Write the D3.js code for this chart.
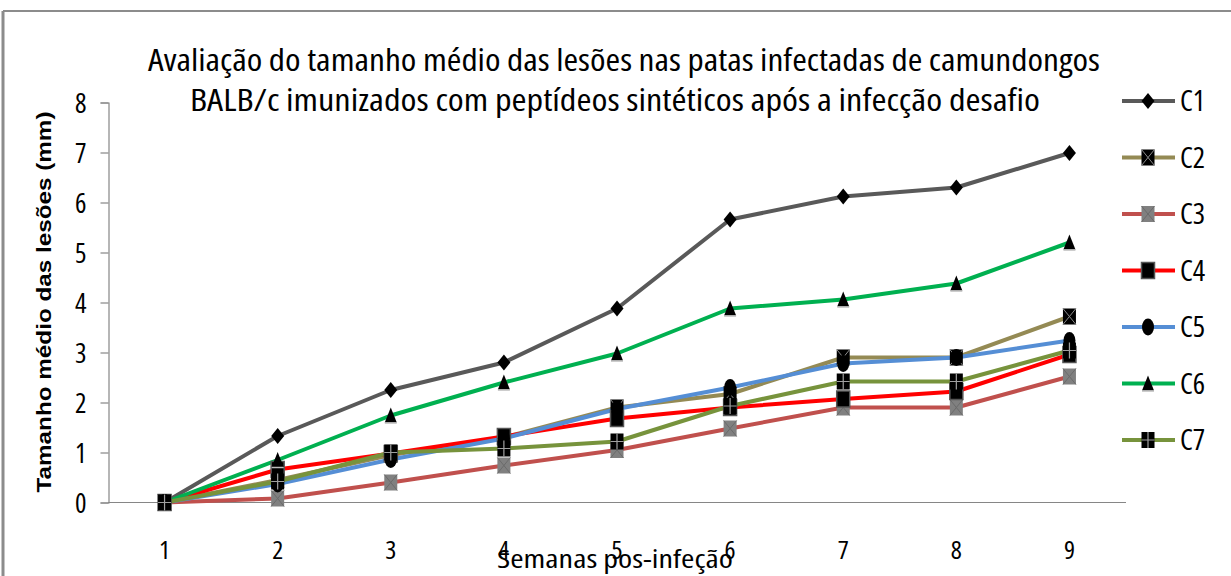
<!DOCTYPE html>
<head>
<meta charset="utf-8">
<script src="https://d3js.org/d3.v7.min.js"></script>
<style>
  body { margin: 0; background: #fff; }
  text { font-family: "Open Sans", sans-serif; font-stretch: 75%; fill: #000; }
</style>
</head>
<body>
<svg id="chart" width="1231" height="576"></svg>
<script>
// weeks after infection
const weeks = [1, 2, 3, 4, 5, 6, 7, 8, 9];
// mean lesion size (mm) per group
const C1 = [0, 1.33, 2.25, 2.8, 3.88, 5.66, 6.12, 6.3, 6.99];
const C2 = [0, 0.45, 0.95, 1.3, 1.9, 2.17, 2.9, 2.9, 3.72];
const C3 = [0, 0.08, 0.4, 0.74, 1.05, 1.48, 1.9, 1.9, 2.52];
const C4 = [0, 0.66, 0.98, 1.32, 1.68, 1.9, 2.07, 2.22, 2.96];
const C5 = [0, 0.37, 0.86, 1.28, 1.87, 2.3, 2.78, 2.9, 3.24];
const C6 = [0, 0.85, 1.74, 2.4, 2.98, 3.88, 4.06, 4.38, 5.2];
const C7 = [0, 0.42, 1.0, 1.08, 1.22, 1.93, 2.42, 2.42, 3.04];
const yTicks = [0, 1, 2, 3, 4, 5, 6, 7, 8];
const groupNames = ["C1", "C2", "C3", "C4", "C5", "C6", "C7"];

const series = [
  {name: "C1", values: C1, color: "#595959", marker: "diamond"},
  {name: "C2", values: C2, color: "#948A54", marker: "xbox"},
  {name: "C3", values: C3, color: "#C0504D", marker: "graybox"},
  {name: "C4", values: C4, color: "#FF0000", marker: "square"},
  {name: "C5", values: C5, color: "#558ED5", marker: "circle"},
  {name: "C6", values: C6, color: "#00B050", marker: "triangle"},
  {name: "C7", values: C7, color: "#77933C", marker: "plusbox"}
];

const svg = d3.select("#chart");

// outer chart border (only top and left are in frame)
svg.append("line").attr("x1", 3).attr("x2", 1231).attr("y1", 11).attr("y2", 11)
  .attr("stroke", "#8c8c8c").attr("stroke-width", 2);
svg.append("line").attr("x1", 3).attr("x2", 3).attr("y1", 11).attr("y2", 576)
  .attr("stroke", "#8c8c8c").attr("stroke-width", 3);

const x = d3.scalePoint().domain(weeks).range([108, 1126]).padding(0.5);
const y = d3.scaleLinear().domain([0, 8]).range([502.5, 102.5]);

// y axis
const yAxis = svg.append("g").attr("transform", "translate(108.5,0)")
  .call(d3.axisLeft(y).tickValues(yTicks).tickSize(8).tickPadding(14).tickFormat(d3.format("d")));
yAxis.select(".domain").attr("stroke", "#868686").attr("stroke-width", 1.2);
yAxis.selectAll(".tick line").attr("stroke", "#868686").attr("stroke-width", 1.2);
yAxis.selectAll(".tick text").attr("font-size", 27).attr("dy", "0.36em")
  .style("font-family", "'Open Sans', sans-serif");

// x axis line and labels
svg.append("line").attr("x1", 108).attr("x2", 1126).attr("y1", 502.5).attr("y2", 502.5)
  .attr("stroke", "#868686").attr("stroke-width", 1.2);
svg.append("g").selectAll("text").data(weeks).join("text")
  .attr("x", d => x(d)).attr("y", 559)
  .attr("text-anchor", "middle").attr("font-size", 26)
  .text(d => d);

// lines
const line = d3.line().x((d, i) => x(weeks[i])).y(d => y(d));
svg.append("g").selectAll("path").data(series).join("path")
  .attr("d", d => line(d.values))
  .attr("fill", "none")
  .attr("stroke", d => d.color)
  .attr("stroke-width", 4)
  .attr("stroke-linejoin", "round");

function drawMarker(g, type, cx, cy) {
  const w = 6.5, h = 8;
  if (type === "diamond") {
    g.append("path").attr("d", `M${cx},${cy - h}L${cx + w},${cy}L${cx},${cy + h}L${cx - w},${cy}Z`).attr("fill", "#000");
  } else if (type === "circle") {
    g.append("ellipse").attr("cx", cx).attr("cy", cy).attr("rx", 6).attr("ry", 8.5).attr("fill", "#000");
  } else if (type === "triangle") {
    g.append("path").attr("d", `M${cx},${cy - 8}L${cx + 6},${cy + 7}L${cx - 6},${cy + 7}Z`).attr("fill", "#000");
    g.append("line").attr("x1", cx - 6).attr("x2", cx + 6).attr("y1", cy + 7.5).attr("y2", cy + 7.5)
      .attr("stroke", "#bdbdbd").attr("stroke-width", 1.5);
  } else {
    const fill = type === "graybox" ? "#808080" : "#000";
    g.append("rect").attr("x", cx - w).attr("y", cy - h).attr("width", 2 * w).attr("height", 2 * h)
      .attr("fill", fill).attr("stroke", type === "square" ? "#555" : "none").attr("stroke-width", 1.5);
    if (type === "xbox" || type === "graybox") {
      const c = type === "xbox" ? "#8a8a8a" : "#6b6b6b";
      g.append("path").attr("d", `M${cx - w},${cy - h}L${cx + w},${cy + h}M${cx + w},${cy - h}L${cx - w},${cy + h}`)
        .attr("stroke", c).attr("stroke-width", 1);
    }
    if (type === "plusbox") {
      g.append("path").attr("d", `M${cx},${cy - h}V${cy + h}M${cx - w},${cy}H${cx + w}`)
        .attr("stroke", "#a0a0a0").attr("stroke-width", 1.2);
    }
  }
}

// markers
const mg = svg.append("g");
series.forEach(s => {
  s.values.forEach((v, i) => drawMarker(mg, s.marker, x(weeks[i]), y(v)));
});

// legend
const legendY = d3.scalePoint().domain(groupNames).range([101, 440]);
const lg = svg.append("g");
series.forEach(s => {
  const ly = legendY(s.name);
  lg.append("line").attr("x1", 1122).attr("x2", 1175).attr("y1", ly).attr("y2", ly)
    .attr("stroke", s.color).attr("stroke-width", 4);
  drawMarker(lg, s.marker, 1148, ly);
  lg.append("text").attr("x", 1180).attr("y", ly + 10).attr("font-size", 29).text(s.name);
});

// titles
svg.append("text").attr("x", 624).attr("y", 71).attr("text-anchor", "middle")
  .attr("font-size", 30).attr("font-weight", 500).attr("textLength", 952).attr("lengthAdjust", "spacingAndGlyphs")
  .text("Avaliação do tamanho médio das lesões nas patas infectadas de camundongos");
svg.append("text").attr("x", 615).attr("y", 111).attr("text-anchor", "middle")
  .attr("font-size", 30).attr("font-weight", 500).attr("textLength", 850).attr("lengthAdjust", "spacingAndGlyphs")
  .text("BALB/c imunizados com peptídeos sintéticos após a infecção desafio");

svg.append("text").attr("x", 615).attr("y", 568).attr("text-anchor", "middle")
  .attr("font-size", 26).attr("textLength", 236).attr("lengthAdjust", "spacingAndGlyphs")
  .text("Semanas pos-infeção");

svg.append("text")
  .attr("transform", "translate(51,302) rotate(-90)")
  .attr("text-anchor", "middle").attr("font-size", 20).attr("font-weight", "bold")
  .attr("textLength", 381).attr("lengthAdjust", "spacingAndGlyphs")
  .style("font-family", "'Liberation Sans', Arial, sans-serif")
  .style("font-stretch", "normal")
  .text("Tamanho médio das lesões (mm)");
</script>
</body>
